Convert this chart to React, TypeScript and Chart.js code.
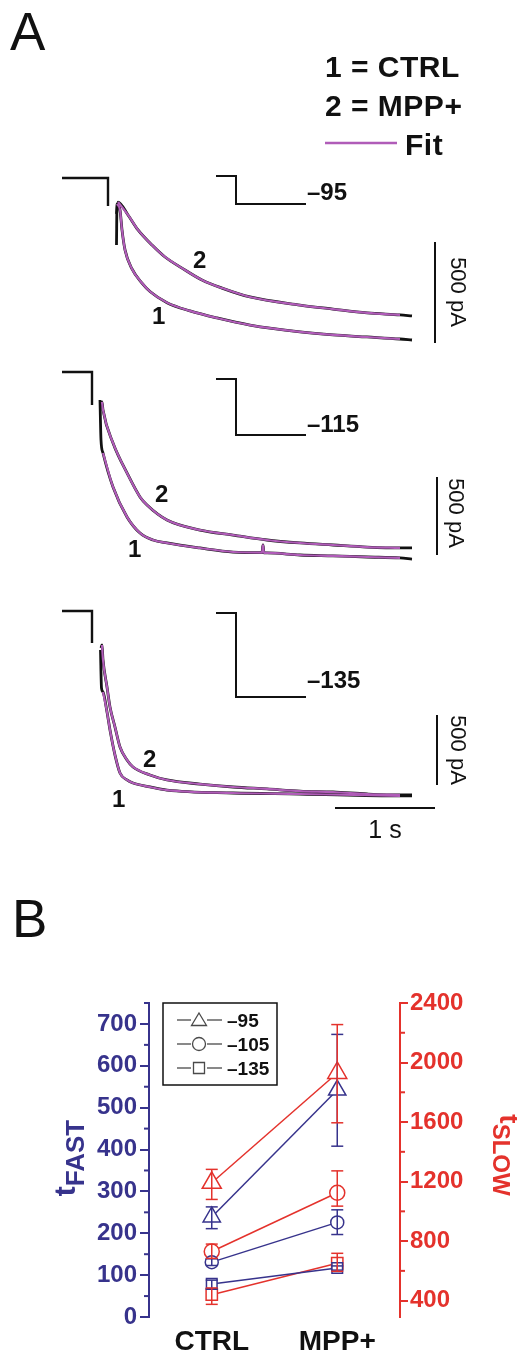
import React, { useEffect, useRef } from 'react';
import { Chart, registerables } from 'chart.js';
Chart.register(...registerables);

const FONT = '"Liberation Sans", Arial, Helvetica, sans-serif';
const BLUE = '#37338c';
const RED = '#e4322c';
const MAGENTA = '#b05cb8';
const INK = '#111111';
const GREY = '#4a4a4a';

const W = 517;
const A_H = 860;
const B_TOP = 860;
const B_H = 494;

// ---------------- Panel A: tail currents (time in s, current in pA vs holding) ----------------
const A1_STEP_T = [0, 0.46, 0.46];
const A1_STEP_I = [0, 0, -139];
const A1_CTRL_T = [0.545, 0.55, 0.58, 0.6, 0.63, 0.7, 0.8, 0.88, 1.05, 1.28, 1.55, 1.88, 2.38, 2.71, 3.05, 3.38, 3.5];
const A1_CTRL_I = [-332, -129, -158, -257, -356, -450, -520, -562, -617, -658, -693, -728, -762, -777, -787, -797, -802];
const A1_MPP_T = [0.545, 0.56, 0.66, 0.76, 0.9, 1.03, 1.2, 1.4, 1.6, 1.88, 2.38, 2.71, 3.05, 3.38, 3.5];
const A1_MPP_I = [-178, -119, -183, -257, -332, -391, -446, -505, -545, -589, -629, -649, -668, -678, -683];

const A2_STEP_T = [0, 0.3, 0.3];
const A2_STEP_I = [0, 0, -212];
const A2_CTRL_T = [0.38, 0.39, 0.41, 0.51, 0.65, 0.78, 0.91, 1.05, 1.38, 1.71, 2.0, 2.01, 2.02, 2.05, 2.38, 2.71, 3.05, 3.38, 3.5];
const A2_CTRL_I = [-179, -436, -519, -737, -929, -1032, -1077, -1096, -1128, -1154, -1158, -1109, -1160, -1160, -1173, -1179, -1186, -1192, -1199];
const A2_MPP_T = [0.385, 0.4, 0.41, 0.51, 0.65, 0.78, 0.85, 1.05, 1.38, 1.71, 2.05, 2.38, 2.71, 3.05, 3.38, 3.5];
const A2_MPP_I = [-212, -192, -244, -455, -647, -801, -853, -949, -1013, -1045, -1077, -1096, -1109, -1122, -1128, -1128];

const A3_STEP_T = [0, 0.3, 0.3];
const A3_STEP_I = [0, 0, -229];
const A3_CTRL_T = [0.385, 0.395, 0.41, 0.45, 0.48, 0.53, 0.58, 0.65, 0.71, 0.88, 1.05, 1.71, 2.38, 3.38, 3.5];
const A3_CTRL_I = [-279, -550, -579, -721, -850, -1029, -1157, -1207, -1229, -1257, -1279, -1300, -1307, -1321, -1321];
const A3_MPP_T = [0.39, 0.4, 0.41, 0.45, 0.48, 0.53, 0.58, 0.65, 0.71, 0.88, 1.05, 1.38, 1.71, 2.05, 2.38, 2.71, 3.05, 3.38, 3.5];
const A3_MPP_I = [-264, -243, -350, -543, -686, -829, -971, -1064, -1114, -1171, -1207, -1236, -1257, -1271, -1286, -1293, -1307, -1314, -1314];

const FIT_END_S = 3.38;

// voltage protocol (schematic)
const HOLD_MV = -75;
const STEP_MV = [-95, -115, -135];
const STEP_LABELS = ['–95', '–115', '–135'];
const PROTO_T = [1.54, 1.74, 2.44];

const SCALE_PA = 500;
const SCALE_S = 1;

// ---------------- Panel B: time constants ----------------
const CONDITIONS = ['CTRL', 'MPP+'];
const LEGEND_LABELS = ['–95', '–105', '–135'];

const FAST_95 = [239, 542];
const FAST_95_LO = [211, 408];
const FAST_95_HI = [263, 675];
const FAST_105 = [131, 226];
const FAST_105_LO = [123, 197];
const FAST_105_HI = [139, 256];
const FAST_135 = [79, 117];
const FAST_135_LO = [68, 112];
const FAST_135_HI = [88, 122];

const SLOW_95 = [1192, 1930];
const SLOW_95_LO = [1080, 1595];
const SLOW_95_HI = [1282, 2255];
const SLOW_105 = [730, 1125];
const SLOW_105_LO = [684, 1035];
const SLOW_105_HI = [780, 1272];
const SLOW_135 = [440, 651];
const SLOW_135_LO = [375, 597];
const SLOW_135_HI = [485, 718];

const FAST_TICKS = [0, 100, 200, 300, 400, 500, 600, 700];
const FAST_MINOR = [50, 150, 250, 350, 450, 550, 650, 750];
const SLOW_TICKS = [400, 800, 1200, 1600, 2000, 2400];
const SLOW_MINOR = [600, 1000, 1400, 1800, 2200];

// ---------------- helpers ----------------
type P = { x: number; y: number };
const pts = (T: number[], I: number[]): P[] => T.map((t, i) => ({ x: t, y: I[i] }));
const fitPts = (T: number[], I: number[], t0: number): P[] =>
  pts(T, I).filter((p) => p.x >= t0 && p.x <= FIT_END_S);

const X_ORIGIN = 62;
const PX_PER_S = 100;
const X_MIN = -X_ORIGIN / PX_PER_S;
const X_MAX = (W - X_ORIGIN) / PX_PER_S;
const MV_PX = 1.4;

const PANELS = [
  {
    ax: 'y1', vx: 'v1', origin: 178, pxPerPA: 101 / SCALE_PA, protoTop: 176,
    step: [A1_STEP_T, A1_STEP_I], ctrl: [A1_CTRL_T, A1_CTRL_I], mpp: [A1_MPP_T, A1_MPP_I],
    ctrlFit0: 0.55, mppFit0: 0.56, barT: 3.73, barTop: -317, labDy: -4,
    lab2: [193, 268], lab1: [152, 324], barText: [457, 292],
  },
  {
    ax: 'y2', vx: 'v2', origin: 372, pxPerPA: 78 / SCALE_PA, protoTop: 379,
    step: [A2_STEP_T, A2_STEP_I], ctrl: [A2_CTRL_T, A2_CTRL_I], mpp: [A2_MPP_T, A2_MPP_I],
    ctrlFit0: 0.41, mppFit0: 0.4, barT: 3.75, barTop: -673, labDy: -3,
    lab2: [155, 502], lab1: [128, 557], barText: [455, 513],
  },
  {
    ax: 'y3', vx: 'v3', origin: 611, pxPerPA: 70 / SCALE_PA, protoTop: 613,
    step: [A3_STEP_T, A3_STEP_I], ctrl: [A3_CTRL_T, A3_CTRL_I], mpp: [A3_MPP_T, A3_MPP_I],
    ctrlFit0: 0.41, mppFit0: 0.4, barT: 3.75, barTop: -743, labDy: -9,
    lab2: [143, 767], lab1: [112, 807], barText: [457, 750],
  },
];
const TIME_BAR_T0 = 2.73;
const TIME_BAR_I = -1407;

function line(ctx: CanvasRenderingContext2D, x1: number, y1: number, x2: number, y2: number) {
  ctx.beginPath();
  ctx.moveTo(x1, y1);
  ctx.lineTo(x2, y2);
  ctx.stroke();
}

function configA(): any {
  const scales: any = {
    x: { type: 'linear', display: false, min: X_MIN, max: X_MAX, bounds: 'data' },
  };
  const datasets: any[] = [];
  PANELS.forEach((p, i) => {
    scales[p.ax] = {
      type: 'linear', display: false, bounds: 'data',
      min: (p.origin - A_H) / p.pxPerPA, max: p.origin / p.pxPerPA,
    };
    scales[p.vx] = {
      type: 'linear', display: false, bounds: 'data',
      min: HOLD_MV - (A_H - p.protoTop) / MV_PX, max: HOLD_MV + p.protoTop / MV_PX,
    };
    const base = { xAxisID: 'x', yAxisID: p.ax, pointRadius: 0, fill: false };
    datasets.push({ ...base, order: 2, data: pts(p.step[0], p.step[1]), borderColor: INK, borderWidth: 2.4, tension: 0 });
    datasets.push({ ...base, order: 2, data: pts(p.ctrl[0], p.ctrl[1]), borderColor: INK, borderWidth: 2.8, tension: 0.4, cubicInterpolationMode: 'monotone' });
    datasets.push({ ...base, order: 2, data: pts(p.mpp[0], p.mpp[1]), borderColor: INK, borderWidth: 2.8, tension: 0.4, cubicInterpolationMode: 'monotone' });
    datasets.push({ ...base, order: 0, data: fitPts(p.ctrl[0], p.ctrl[1], p.ctrlFit0), borderColor: MAGENTA, borderWidth: 2.2, tension: 0.4, cubicInterpolationMode: 'monotone' });
    datasets.push({ ...base, order: 0, data: fitPts(p.mpp[0], p.mpp[1], p.mppFit0), borderColor: MAGENTA, borderWidth: 2.2, tension: 0.4, cubicInterpolationMode: 'monotone' });
    // voltage protocol icon
    datasets.push({
      ...base, order: 1, yAxisID: p.vx, borderColor: INK, borderWidth: 2, tension: 0,
      data: [
        { x: PROTO_T[0], y: HOLD_MV }, { x: PROTO_T[1], y: HOLD_MV },
        { x: PROTO_T[1], y: STEP_MV[i] }, { x: PROTO_T[2], y: STEP_MV[i] },
      ],
    });
    // 500 pA scale bar
    datasets.push({
      ...base, order: 1, borderColor: INK, borderWidth: 2, tension: 0,
      data: [{ x: p.barT, y: p.barTop }, { x: p.barT, y: p.barTop - SCALE_PA }],
    });
  });
  // 1 s time bar
  datasets.push({
    xAxisID: 'x', yAxisID: 'y3', order: 1, pointRadius: 0, borderColor: INK, borderWidth: 2, tension: 0,
    data: [{ x: TIME_BAR_T0, y: TIME_BAR_I }, { x: TIME_BAR_T0 + SCALE_S, y: TIME_BAR_I }],
  });

  const textPlugin = {
    id: 'aText',
    afterDraw(chart: any) {
      const ctx: CanvasRenderingContext2D = chart.ctx;
      ctx.save();
      ctx.fillStyle = INK;
      ctx.textAlign = 'left';
      ctx.textBaseline = 'alphabetic';
      ctx.font = `53px ${FONT}`;
      ctx.fillText('A', 10, 50);
      ctx.font = `bold 30px ${FONT}`;
      (ctx as any).letterSpacing = '0.5px';
      ctx.fillText('1 = CTRL', 325, 77);
      ctx.fillText('2 = MPP+', 325, 116);
      ctx.fillText('Fit', 405, 155);
      (ctx as any).letterSpacing = '0px';
      ctx.strokeStyle = MAGENTA;
      ctx.lineWidth = 2.5;
      line(ctx, 325, 143, 397, 143);

      const xs = chart.scales.x;
      PANELS.forEach((p, i) => {
        const vs = chart.scales[p.vx];
        ctx.fillStyle = INK;
        ctx.font = `bold 24px ${FONT}`;
        ctx.textAlign = 'left';
        ctx.fillText(STEP_LABELS[i], xs.getPixelForValue(PROTO_T[2]) + 1, vs.getPixelForValue(STEP_MV[i]) + p.labDy);
        ctx.fillText('2', p.lab2[0], p.lab2[1]);
        ctx.fillText('1', p.lab1[0], p.lab1[1]);
        ctx.save();
        ctx.translate(p.barText[0], p.barText[1]);
        ctx.rotate(Math.PI / 2);
        ctx.font = `22px ${FONT}`;
        ctx.textAlign = 'center';
        ctx.textBaseline = 'middle';
        ctx.fillText(`${SCALE_PA} pA`, 0, 0);
        ctx.restore();
      });
      ctx.font = `25px ${FONT}`;
      ctx.textAlign = 'center';
      ctx.fillText(`${SCALE_S} s`, xs.getPixelForValue(TIME_BAR_T0 + SCALE_S / 2), 838);
      ctx.restore();
    },
  };

  return {
    type: 'line',
    data: { datasets },
    options: {
      responsive: false,
      animation: false,
      events: [],
      layout: { padding: 0 },
      scales,
      plugins: { legend: { display: false }, tooltip: { enabled: false } },
    },
    plugins: [textPlugin],
  };
}

function configB(): any {
  const mk = (label: string, data: number[], lo: number[], hi: number[], axis: string, color: string, style: string, r: number) => ({
    label, data, errLo: lo, errHi: hi, yAxisID: axis, borderColor: color, borderWidth: 1.5,
    pointStyle: style, pointRadius: r, pointBorderColor: color, pointBackgroundColor: '#ffffff',
    pointBorderWidth: 1.5, tension: 0, fill: false,
  });
  const datasets = [
    mk('fast –95', FAST_95, FAST_95_LO, FAST_95_HI, 'y', BLUE, 'triangle', 10),
    mk('fast –105', FAST_105, FAST_105_LO, FAST_105_HI, 'y', BLUE, 'circle', 6.5),
    mk('fast –135', FAST_135, FAST_135_LO, FAST_135_HI, 'y', BLUE, 'rect', 7.5),
    mk('slow –95', SLOW_95, SLOW_95_LO, SLOW_95_HI, 'y2', RED, 'triangle', 11),
    mk('slow –105', SLOW_105, SLOW_105_LO, SLOW_105_HI, 'y2', RED, 'circle', 7.5),
    mk('slow –135', SLOW_135, SLOW_135_LO, SLOW_135_HI, 'y2', RED, 'rect', 8),
  ];

  const deco = {
    id: 'bDeco',
    afterDatasetsDraw(chart: any) {
      const ctx: CanvasRenderingContext2D = chart.ctx;
      const xs = chart.scales.x;
      ctx.save();
      ctx.lineWidth = 1.5;
      chart.data.datasets.forEach((ds: any) => {
        const ys = chart.scales[ds.yAxisID];
        ctx.strokeStyle = ds.borderColor;
        ds.data.forEach((_: number, i: number) => {
          const x = xs.getPixelForValue(i);
          const yl = ys.getPixelForValue(ds.errLo[i]);
          const yh = ys.getPixelForValue(ds.errHi[i]);
          line(ctx, x, yl, x, yh);
          line(ctx, x - 6, yl, x + 6, yl);
          line(ctx, x - 6, yh, x + 6, yh);
        });
      });
      ctx.restore();
    },
    afterDraw(chart: any) {
      const ctx: CanvasRenderingContext2D = chart.ctx;
      const ca = chart.chartArea;
      const off = B_TOP;
      ctx.save();
      // minor ticks
      ctx.lineWidth = 2;
      ctx.strokeStyle = BLUE;
      FAST_MINOR.forEach((v) => {
        const y = chart.scales.y.getPixelForValue(v);
        line(ctx, ca.left - 5, y, ca.left, y);
      });
      ctx.strokeStyle = RED;
      SLOW_MINOR.forEach((v) => {
        const y = chart.scales.y2.getPixelForValue(v);
        line(ctx, ca.right, y, ca.right + 5, y);
      });
      // panel letter
      ctx.fillStyle = INK;
      ctx.textAlign = 'left';
      ctx.textBaseline = 'alphabetic';
      ctx.font = `53px ${FONT}`;
      ctx.fillText('B', 12, 937 - off);
      // legend box
      ctx.strokeStyle = INK;
      ctx.lineWidth = 1.5;
      ctx.strokeRect(163, 1003 - off, 114, 82);
      const rows = [1020, 1044, 1068];
      const styles = ['triangle', 'circle', 'rect'];
      rows.forEach((ry, i) => {
        const y = ry - off;
        ctx.strokeStyle = GREY;
        ctx.lineWidth = 1.3;
        line(ctx, 177, y, 191, y);
        line(ctx, 207, y, 222, y);
        const cx = 199;
        ctx.beginPath();
        if (styles[i] === 'triangle') {
          ctx.moveTo(cx, y - 7);
          ctx.lineTo(cx + 7.5, y + 5.5);
          ctx.lineTo(cx - 7.5, y + 5.5);
          ctx.closePath();
        } else if (styles[i] === 'circle') {
          ctx.arc(cx, y, 6.5, 0, Math.PI * 2);
        } else {
          ctx.rect(cx - 5.5, y - 5.5, 11, 11);
        }
        ctx.stroke();
        ctx.fillStyle = INK;
        ctx.font = `bold 19px ${FONT}`;
        ctx.fillText(LEGEND_LABELS[i], 227, y + 7);
      });
      // axis titles
      const drawTitle = (cx: number, cy: number, rot: number, sub: string, tSize: number, sSize: number, bT: number, bS: number, color: string) => {
        ctx.save();
        ctx.translate(cx, cy);
        ctx.rotate(rot);
        ctx.fillStyle = color;
        ctx.textAlign = 'left';
        ctx.textBaseline = 'alphabetic';
        ctx.font = `bold ${tSize}px ${FONT}`;
        const wt = ctx.measureText('t').width;
        ctx.font = `bold ${sSize}px ${FONT}`;
        const ws = ctx.measureText(sub).width;
        const x0 = -(wt + ws) / 2;
        ctx.font = `bold ${tSize}px ${FONT}`;
        ctx.fillText('t', x0, bT);
        ctx.font = `bold ${sSize}px ${FONT}`;
        ctx.fillText(sub, x0 + wt, bS);
        ctx.restore();
      };
      drawTitle(73, 1158 - off, -Math.PI / 2, 'FAST', 30, 26, 2, 11, BLUE);
      drawTitle(505, 1155 - off, Math.PI / 2, 'SLOW', 28, 24, 5, 12, RED);
      ctx.restore();
    },
  };

  return {
    type: 'line',
    data: { labels: CONDITIONS, datasets },
    options: {
      responsive: false,
      animation: false,
      events: [],
      layout: { padding: { top: 1003 - B_TOP, left: 0, right: 0, bottom: 0 } },
      scales: {
        x: {
          type: 'category', offset: true,
          grid: { display: false, drawTicks: false },
          border: { display: false },
          ticks: { font: { family: FONT, size: 28, weight: 'bold' }, color: INK, padding: 8, maxRotation: 0 },
          afterFit: (s: any) => { s.height = 1354 - 1317; },
        },
        y: {
          type: 'linear', position: 'left', min: 0, max: 750, bounds: 'data',
          afterBuildTicks: (s: any) => { s.ticks = FAST_TICKS.map((v) => ({ value: v })); },
          afterFit: (s: any) => { s.width = 149; },
          grid: { drawOnChartArea: false, drawTicks: true, tickLength: 9, color: BLUE, lineWidth: 2 },
          border: { display: true, color: BLUE, width: 2 },
          ticks: { font: { family: FONT, size: 24, weight: 'bold' }, color: BLUE, padding: 3, callback: (v: any) => String(v) },
        },
        y2: {
          type: 'linear', position: 'right', min: 290, max: 2400, bounds: 'data',
          afterBuildTicks: (s: any) => { s.ticks = SLOW_TICKS.map((v) => ({ value: v })); },
          afterFit: (s: any) => { s.width = W - 400; },
          grid: { drawOnChartArea: false, drawTicks: true, tickLength: 8, color: RED, lineWidth: 2 },
          border: { display: true, color: RED, width: 2 },
          ticks: { font: { family: FONT, size: 24, weight: 'bold' }, color: RED, padding: 2, callback: (v: any) => String(v) },
        },
      },
      plugins: { legend: { display: false }, tooltip: { enabled: false } },
    },
    plugins: [deco],
  };
}

export default function App() {
  const aRef = useRef<HTMLCanvasElement>(null);
  const bRef = useRef<HTMLCanvasElement>(null);
  useEffect(() => {
    document.body.style.margin = '0';
    const a = new Chart(aRef.current as HTMLCanvasElement, configA());
    const b = new Chart(bRef.current as HTMLCanvasElement, configB());
    return () => {
      a.destroy();
      b.destroy();
    };
  }, []);
  return (
    <div style={{ position: 'relative', width: W, height: 1354, background: '#ffffff', overflow: 'hidden' }}>
      <canvas ref={aRef} width={W} height={A_H} style={{ position: 'absolute', left: 0, top: 0, width: W, height: A_H }} />
      <canvas ref={bRef} width={W} height={B_H} style={{ position: 'absolute', left: 0, top: B_TOP, width: W, height: B_H }} />
    </div>
  );
}
